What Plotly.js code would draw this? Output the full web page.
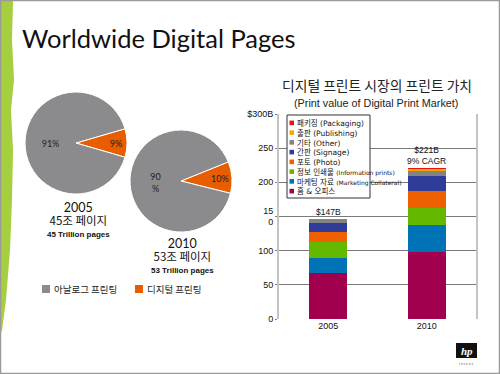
<!DOCTYPE html>
<html><head><meta charset="utf-8">
<script src="https://cdn.plot.ly/plotly-3.0.1.min.js"></script>
<style>html,body{margin:0;padding:0;background:#fff;}#chart{width:500px;height:374px;}</style>
</head><body><div id="chart"></div>
<script>
// ---- data ----
const years = ['2005', '2010'];
const seriesNames = ['홈 &amp; 오피스', '마케팅 자료 <span style="font-size:6px">(Marketing Collateral)</span>', '정보 인쇄물 <span style="font-size:6px">(Information prints)</span>', '포토 (Photo)', '간판 (Signage)', '기타 (Other)', '출판 (Publishing)', '패키징 (Packaging)'];
const homeOffice = [68, 98];
const marketing = [22, 40];
const infoPrints = [22, 24];
const photo = [15, 25];
const signage = [13, 22];
const other = [6, 8];
const publishing = [0.5, 2];
const packaging = [0.5, 2];
const totalLabels = ['$147B', '$221B<br>9% CAGR'];
const totals = [147, 221];
const yTickVals = [0, 50, 100, 150, 200, 250, 300];
const yTickText = ['0', '50', '100', '15<br>0', '200', '250', '$300B'];
const seriesColors = ['#a1004f', '#0072b6', '#64b900', '#ef6100', '#2f3c98', '#838383', '#f7a900', '#ee1111'];

const pieLabels = ['디지털 프린팅', '아날로그 프린팅'];
const pie2005 = [9, 91];
const pie2010 = [10, 90];
const pieText2005 = ['9%', '91%'];
const pieText2010 = ['10%', '90<br>%'];
const pieColors = ['#e85d00', '#8b8b8d'];
const pieCaptions = [['2005', '45조 페이지', '45 Trillion pages'], ['2010', '53조 페이지', '53 Trillion pages']];

// ---- helpers ----
const W = 500, H = 374;
const px = x => x / W;
const py = y => 1 - y / H;
const KR = '"Noto Sans CJK KR", "Noto Sans", sans-serif';
const LEGF = '"DejaVu Sans", "Noto Sans CJK KR", sans-serif';
const SANS = 'Lato, "Liberation Sans", sans-serif';
const ARIAL = '"Liberation Sans", Arial, sans-serif';

const stackSeries = [homeOffice, marketing, infoPrints, photo, signage, other, publishing, packaging];
const traces = stackSeries.map((vals, i) => ({
  type: 'bar', x: years, y: vals, name: 's' + i,
  marker: {color: seriesColors[i]},
  showlegend: false, hoverinfo: 'skip'
}));

const pieCommon = {
  type: 'pie', labels: pieLabels, sort: false, direction: 'clockwise',
  marker: {colors: pieColors, line: {color: '#ffffff', width: 1}},
  textinfo: 'text', textposition: 'inside', insidetextorientation: 'horizontal',
  textfont: {family: SANS, size: 9, color: '#222'}, showlegend: false, hoverinfo: 'skip'
};
traces.push(Object.assign({}, pieCommon, {values: pie2005, text: pieText2005, rotation: 73.8,
  domain: {x: [px(25), px(127)], y: [py(194), py(92)]}}));
traces.push(Object.assign({}, pieCommon, {values: pie2010, text: pieText2010, rotation: 68,
  domain: {x: [px(130), px(232)], y: [py(232), py(130)]}}));

const annotations = [];
const shapes = [];
function note(x, y, text, font, xanchor, extra) {
  annotations.push(Object.assign({xref: 'paper', yref: 'paper', x: px(x), y: py(y), xanchor: xanchor || 'center',
    yanchor: 'middle', text: text, showarrow: false, font: font, borderpad: 0}, extra || {}));
}
// main title
note(21, 38, 'Worldwide Digital Pages', {family: SANS, size: 25.5, color: '#111'}, 'left');
// pie captions (one multi-line text each)
const capX = [78, 182], capY = [219, 256];
pieCaptions.forEach((c, i) => {
  const txt = '<span style="font-family:Lato;font-size:12.5px">' + c[0] + '</span><br>' +
    '<span style="font-size:11.5px">' + c[1] + '</span><br>' +
    '<b><span style="font-family:Liberation Sans;font-size:8px">' + c[2] + '</span></b>';
  note(capX[i], capY[i], txt, {family: KR, size: 9.8, color: '#111'}, 'center');
});
// pie legend
const pieLegX = [42, 135];
[1, 0].forEach((idx, k) => {
  shapes.push({type: 'rect', xref: 'paper', yref: 'paper', x0: px(pieLegX[k]), x1: px(pieLegX[k] + 8),
    y0: py(293), y1: py(285), fillcolor: pieColors[idx], line: {width: 0}});
  note(pieLegX[k] + 11, 289, pieLabels[idx], {family: KR, size: 9.5, color: '#222'}, 'left');
});
// bar chart titles
note(377, 85, '디지털 프린트 시장의 프린트 가치', {family: KR, size: 13.8, color: '#222'});
note(376, 103, '(Print value of Digital Print Market)', {family: ARIAL, size: 10.8, color: '#222'});
// totals
years.forEach((yr, i) => {
  annotations.push({xref: 'x', yref: 'y', x: i, y: totals[i], xanchor: 'center', yanchor: 'bottom', yshift: 1,
    text: totalLabels[i], showarrow: false, font: {family: ARIAL, size: 8.5, color: '#111'}, borderpad: 0});
});
// bar legend box
shapes.push({type: 'rect', xref: 'paper', yref: 'paper', x0: px(287), x1: px(370), y0: py(198), y1: py(115),
  fillcolor: '#ffffff', line: {color: '#333', width: 1}, layer: 'above'});
const legFont = 7.5, legStep = legFont * 1.3, legMid = 157;
const legLines = [];
for (let k = 0; k < seriesNames.length; k++) {
  const i = seriesNames.length - 1 - k;
  const yc = legMid + (k - 3.5) * legStep;
  shapes.push({type: 'rect', xref: 'paper', yref: 'paper', x0: px(289.5), x1: px(294), y0: py(yc + 2.3), y1: py(yc - 2.3),
    fillcolor: seriesColors[i], line: {width: 0}, layer: 'above'});
  legLines.push(seriesNames[i]);
}
note(295.5, legMid, legLines.join('<br>'), {family: LEGF, size: legFont, color: '#111'}, 'left', {align: 'left'});
// decorative green strip
shapes.push({type: 'path', xref: 'paper', yref: 'paper', layer: 'below',
  path: `M 0 ${py(0)} L ${px(13)} ${py(0)} L ${px(12)} ${py(40)} L ${px(14)} ${py(80)} L ${px(11)} ${py(110)} L ${px(13)} ${py(150)} L ${px(12)} ${py(200)} L ${px(10)} ${py(250)} L ${px(6)} ${py(300)} L ${px(2)} ${py(330)} L 0 ${py(335)} Z`,
  fillcolor: '#a6cf3f', line: {width: 0}});
// slide border
shapes.push({type: 'rect', xref: 'paper', yref: 'paper', x0: px(0.5), x1: px(499.5), y0: py(373.5), y1: py(0.5),
  line: {color: '#9a9a9a', width: 1.5}, layer: 'above'});
// hp logo
shapes.push({type: 'rect', xref: 'paper', yref: 'paper', x0: px(456), x1: px(477), y0: py(358), y1: py(343),
  fillcolor: '#111', line: {width: 0}, layer: 'above'});
note(466.5, 350.5, '<b><i>hp</i></b>', {family: '"Liberation Serif", serif', size: 11, color: '#fff'});
note(466.5, 363.5, 'i n v e n t', {family: SANS, size: 3.5, color: '#555'});

const layout = {
  width: W, height: H, margin: {l: 0, r: 0, t: 0, b: 0},
  paper_bgcolor: '#ffffff', plot_bgcolor: 'rgba(0,0,0,0)',
  barmode: 'stack', bargap: 0.61, showlegend: false,
  xaxis: {domain: [px(279), px(476)], type: 'category', range: [-0.5, 1.5], autorange: false,
    showgrid: false, zeroline: false, showline: false, ticks: '',
    tickfont: {family: ARIAL, size: 9, color: '#111'}, tickangle: 0},
  yaxis: {domain: [py(319), py(114)], range: [0, 300], autorange: false, tickvals: yTickVals, ticktext: yTickText,
    showgrid: true, gridcolor: '#7a7a7a', gridwidth: 1, zeroline: false,
    showline: true, linecolor: '#c4c4c4', linewidth: 2, mirror: true,
    ticks: 'outside', ticklen: 2, tickcolor: '#7a7a7a',
    tickfont: {family: ARIAL, size: 9, color: '#111'}},
  annotations: annotations, shapes: shapes
};
Plotly.newPlot('chart', traces, layout, {staticPlot: true, displayModeBar: false});
</script></body></html>
